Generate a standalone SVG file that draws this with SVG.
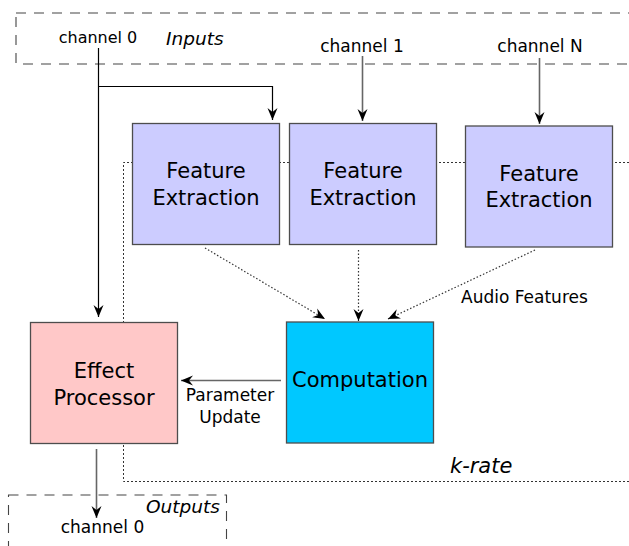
<svg xmlns="http://www.w3.org/2000/svg" width="629" height="546" viewBox="0 0 629 546">
<defs>
<style>
text{font-family:"DejaVu Sans","Liberation Sans",sans-serif;fill:#000}
.node text{font-size:21px;text-anchor:middle}
.fe rect{fill:#ccccff;stroke:#4d4d4d;stroke-width:1.3}
.lbl{font-size:17px}
.it{font-style:italic}
.frame{fill:none;stroke:#444;stroke-width:1.1;stroke-dasharray:10,8}
.kr{fill:none;stroke:#333;stroke-width:1;stroke-dasharray:2,2}
.c{fill:none;stroke-width:1.2}
.blk{stroke:#000}
.gry{stroke:#666;stroke-width:1.6}
.dot{stroke:#333;stroke-dasharray:1.5,2}
</style>
<marker id="ah" viewBox="-13 -6 14 12" refX="0" refY="0" markerWidth="14" markerHeight="12" orient="auto" markerUnits="userSpaceOnUse">
<path d="M0,0 L-12,-5 L-8,0 L-12,5 Z" fill="#000"/>
</marker>
</defs>
<g id="frames">
<rect class="frame" x="16" y="13" width="640" height="51"/>
<rect class="frame" x="8.5" y="495" width="218" height="80"/>
<path class="kr" d="M629,162.5 H123.5 V481.5 H629"/>
</g>
<g id="labels">
<text x="98" y="43" font-size="16" text-anchor="middle">channel 0</text>
<text class="it" x="166" y="45" font-size="18.5">Inputs</text>
<text class="lbl" x="362" y="52" text-anchor="middle">channel 1</text>
<text class="lbl" x="540" y="52" text-anchor="middle">channel N</text>
<text class="lbl" x="461" y="303">Audio Features</text>
<text class="lbl" x="230" y="401" text-anchor="middle">Parameter</text>
<text class="lbl" x="230" y="423" text-anchor="middle">Update</text>
<text class="it" x="450" y="473" font-size="21">k-rate</text>
<text class="it" x="146" y="513" font-size="18.5">Outputs</text>
<text class="lbl" x="102.5" y="533" text-anchor="middle">channel 0</text>
</g>
<g id="fe1" class="node fe">
<rect x="132.5" y="123.5" width="147" height="121"/>
<text x="206" y="178">Feature</text>
<text x="206" y="205">Extraction</text>
</g>
<g id="fe2" class="node fe">
<rect x="289.5" y="123.5" width="147" height="121"/>
<text x="363" y="178">Feature</text>
<text x="363" y="205">Extraction</text>
</g>
<g id="fe3" class="node fe">
<rect x="465.5" y="126" width="147" height="121"/>
<text x="539" y="181">Feature</text>
<text x="539" y="207">Extraction</text>
</g>
<g id="effect" class="node">
<rect x="30.5" y="322.5" width="147" height="121" fill="#ffc8c8" stroke="#4d4d4d" stroke-width="1.3"/>
<text x="104" y="378">Effect</text>
<text x="104" y="405">Processor</text>
</g>
<g id="computation" class="node">
<rect x="286.5" y="322" width="147" height="121" fill="#00c8ff" stroke="#4d4d4d" stroke-width="1.3"/>
<text x="360" y="387">Computation</text>
</g>
<g id="connectors">
<path class="c blk" d="M98.5,48 V317" marker-end="url(#ah)"/>
<path class="c blk" d="M98.5,86.5 H272.5 V120" marker-end="url(#ah)"/>
<path class="c gry" d="M362.5,56 V121" marker-end="url(#ah)"/>
<path class="c gry" d="M539.5,58 V124" marker-end="url(#ah)"/>
<path class="c dot" d="M205,248 L325,319" marker-end="url(#ah)"/>
<path class="c dot" d="M358.5,250 V321" marker-end="url(#ah)"/>
<path class="c dot" d="M535,250 L388,319" marker-end="url(#ah)"/>
<path class="c gry" d="M281,380.5 H181" marker-end="url(#ah)"/>
<path class="c gry" d="M96.5,449 V518" marker-end="url(#ah)"/>
</g>
</svg>
